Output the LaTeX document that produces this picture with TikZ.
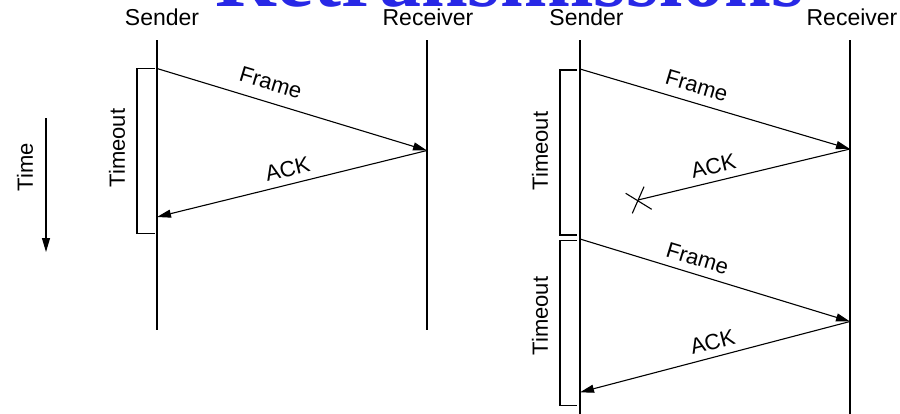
\documentclass[tikz,border=0pt]{standalone}
\usepackage{fontspec}
\setmainfont{Liberation Sans}
\newfontfamily\titlefont{Liberation Serif}
\usetikzlibrary{arrows.meta}
\definecolor{titleblue}{RGB}{40,40,230}
\tikzset{
  lifeline/.style={line width=1.1pt},
  msg/.style={line width=1.1pt, -{Triangle[length=14pt,width=8pt]}},
  lostmsg/.style={line width=1.1pt},
  bracketline/.style={line width=1.1pt},
  hdr/.style={inner sep=0pt, anchor=base, font=\fontsize{23}{27}\selectfont},
  lbl/.style={inner sep=0pt, font=\fontsize{22}{26}\selectfont},
}
\begin{document}
\begin{tikzpicture}[x=1pt,y=-1pt]
\useasboundingbox (0,0) rectangle (900,413);
% clipped title (only its lower edge shows)
\begin{scope}
\clip (0,0) rectangle (900,6.5);
\node (title) [anchor=base, inner sep=0pt, text=titleblue, font={\titlefont\bfseries\fontsize{84}{90}\selectfont}] at (510,6) {Retransmissions};
\end{scope}

% headers
\node (hs1) [hdr] at (162,25) {Sender};
\node (hr1) [hdr] at (428,25) {Receiver};
\node (hs2) [hdr] at (586.5,25) {Sender};
\node (hr2) [hdr] at (852,25) {Receiver};

% ---------- left diagram ----------
\coordinate (s1top) at (157,40);
\coordinate (s1bot) at (157,330);
\coordinate (r1top) at (427,40);
\coordinate (r1bot) at (427,330);
\draw[lifeline] (s1top) -- (s1bot);
\draw[lifeline] (r1top) -- (r1bot);

\coordinate (s1a) at (157,68.5);
\coordinate (r1a) at (427,150.5);
\coordinate (s1b) at (157,217);
\draw[msg] (s1a) -- (r1a);
\draw[msg] (r1a) -- (s1b);
\node (fl1) [lbl, rotate=-16.8] at (270.8,83) {Frame};
\node (al1) [lbl, rotate=13.5] at (287.5,169) {ACK};

% timeout bracket left
\coordinate (b1a) at (155,68.5);
\coordinate (b1b) at (137,68.5);
\coordinate (b1c) at (137,233.5);
\coordinate (b1d) at (155,233.5);
\draw[bracketline] (b1a) -- (b1b) -- (b1c) -- (b1d);
\node (to1) [lbl, rotate=90] at (117,148) {Timeout};

% time axis
\coordinate (t0) at (46,118);
\coordinate (t1) at (46,252);
\draw[msg] (t0) -- (t1);
\node (tl) [lbl, rotate=90] at (25,167) {Time};

% ---------- right diagram ----------
\coordinate (s2top) at (580,40);
\coordinate (s2bot) at (580,416);
\coordinate (r2top) at (850,40);
\coordinate (r2bot) at (850,416);
\draw[lifeline] (s2top) -- (s2bot);
\draw[lifeline] (r2top) -- (r2bot);

\coordinate (s2a) at (580,69);
\coordinate (r2a) at (850,149);
\coordinate (lostpt) at (638,200);
\draw[msg] (s2a) -- (r2a);
\draw[lostmsg] (r2a) -- (lostpt);
\coordinate (xa1) at (625.7,193.3);
\coordinate (xa2) at (651.7,209.3);
\coordinate (xb1) at (644,186.7);
\coordinate (xb2) at (632.3,213.3);
\draw[lostmsg] (xa1) -- (xa2);
\draw[lostmsg] (xb1) -- (xb2);
\node (fr1) [lbl, rotate=-16.5] at (696.7,85.8) {Frame};
\node (ar1) [lbl, rotate=13.3] at (713.3,165.8) {ACK};

\coordinate (s2b) at (580,239);
\coordinate (r2b) at (850,321.5);
\coordinate (s2c) at (580,392.3);
\draw[msg] (s2b) -- (r2b);
\draw[msg] (r2b) -- (s2c);
\node (fr2) [lbl, rotate=-16.9] at (697.5,258.3) {Frame};
\node (ar2) [lbl, rotate=14.6] at (712.5,341.7) {ACK};

% timeout brackets right
\coordinate (b2a) at (577,70);
\coordinate (b2b) at (560,70);
\coordinate (b2c) at (560,235);
\coordinate (b2d) at (577,235);
\draw[bracketline] (b2a) -- (b2b) -- (b2c) -- (b2d);
\node (to2) [lbl, rotate=90] at (540,151) {Timeout};

\coordinate (b3a) at (577,240.7);
\coordinate (b3b) at (560,240.7);
\coordinate (b3c) at (560,405.7);
\coordinate (b3d) at (577,405.7);
\draw[bracketline] (b3a) -- (b3b) -- (b3c) -- (b3d);
\node (to3) [lbl, rotate=90] at (540,316) {Timeout};
\end{tikzpicture}
\end{document}
